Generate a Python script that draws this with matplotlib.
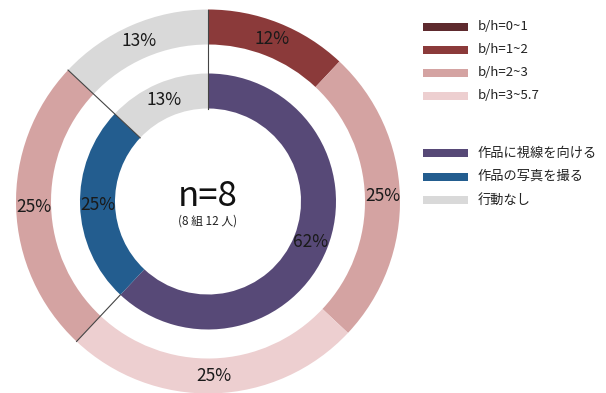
import matplotlib
matplotlib.use("Agg")
import matplotlib.pyplot as plt
from matplotlib.patches import Rectangle
import numpy as np

plt.rcParams['font.family'] = ['Noto Sans CJK JP', 'DejaVu Sans']

# Data
inner_labels = ["作品に視線を向ける", "作品の写真を撮る", "行動なし"]
inner_values = [62, 25, 13]
inner_colors = ["#574977", "#235d8f", "#d9d9d9"]

outer_cats = ["b/h=1~2", "b/h=2~3", "b/h=3~5.7", "b/h=2~3", "行動なし"]
outer_values = [12, 25, 25, 25, 13]

bh_labels = ["b/h=0~1", "b/h=1~2", "b/h=2~3", "b/h=3~5.7"]
bh_colors = ["#5e2a2e", "#8b3a3a", "#d4a3a2", "#edcfd0"]
color_map = dict(zip(bh_labels, bh_colors))
color_map["行動なし"] = "#d9d9d9"
outer_colors = [color_map[c] for c in outer_cats]

W, H = 606, 393
fig = plt.figure(figsize=(W / 100, H / 100), dpi=100)
ax = fig.add_axes([0, 0, 1, 1])

cx, cy = 208, H - 201.5
R_out, w_out = 192, 35
R_in, w_in = 128, 35

ax.pie(outer_values, radius=R_out, center=(cx, cy), colors=outer_colors,
       startangle=90, counterclock=False, frame=True,
       wedgeprops=dict(width=w_out, linewidth=0),
       autopct=lambda p: f"{p:.0f}%", pctdistance=(R_out - w_out / 2) / R_out,
       textprops=dict(fontsize=12.5, color="#1a1a1a"))
ax.pie(inner_values, radius=R_in, center=(cx, cy), colors=inner_colors,
       startangle=90, counterclock=False, frame=True,
       wedgeprops=dict(width=w_in, linewidth=0),
       autopct=lambda p: f"{p:.0f}%", pctdistance=(R_in - w_in / 2) / R_in,
       textprops=dict(fontsize=12.5, color="#1a1a1a"))
ax.set_xlim(0, W)
ax.set_ylim(0, H)
ax.set_aspect('equal')
ax.axis('off')

# separator lines at group boundaries
cum = np.cumsum([0] + inner_values) / 100.0
for frac, r0 in [(cum[0], R_in - w_in), (cum[2], R_in - w_in), (cum[1], R_in)]:
    ang = np.deg2rad(90 - frac * 360)
    ax.plot([cx + r0 * np.cos(ang), cx + R_out * np.cos(ang)],
            [cy + r0 * np.sin(ang), cy + R_out * np.sin(ang)],
            color="#444444", lw=0.8, zorder=5)

ax.text(cx, H - 197, "n=8", ha='center', va='center', fontsize=25, color="#111111")
ax.text(cx, H - 221, "(8 組 12 人)", ha='center', va='center', fontsize=8.5, color="#222222")

# legend
leg_items = list(zip(bh_labels, bh_colors)) + list(zip(inner_labels, inner_colors))
leg_y = [27, 49.5, 72.5, 95.5, 153, 176.5, 200]
for (lab, col), y in zip(leg_items, leg_y):
    ax.add_patch(Rectangle((423, H - y - 4), 45, 8, color=col, lw=0))
    ax.text(478, H - y, lab, ha='left', va='center', fontsize=9.5, color="#222222")

fig.savefig("out.png", dpi=100)
